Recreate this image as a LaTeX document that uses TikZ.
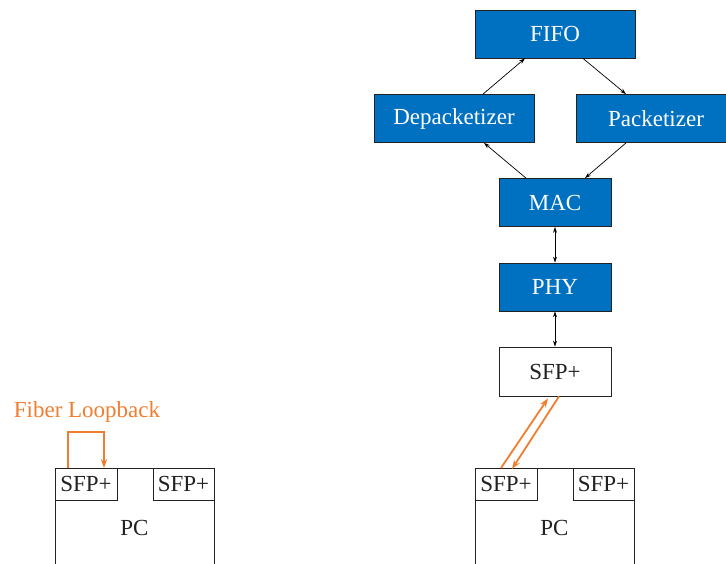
\documentclass[tikz,border=0pt]{standalone}
\usepackage{fontspec}
\setmainfont{Liberation Serif}
\usetikzlibrary{arrows.meta}
\definecolor{blockblue}{RGB}{0,112,192}
\definecolor{fiberorange}{RGB}{241,125,48}
\definecolor{inkgray}{RGB}{34,34,34}
\begin{document}
\begin{tikzpicture}[x=1pt,y=-1pt,
  font=\fontsize{23}{27}\selectfont,
  block/.style={draw=inkgray,line width=0.8pt,fill=blockblue,text=white,
    minimum width=160pt,minimum height=48pt,inner sep=0pt},
  smallblock/.style={block,minimum width=112pt},
  plainbox/.style={draw=inkgray,line width=0.8pt,fill=white,text=inkgray,inner sep=0pt},
  port/.style={plainbox,minimum width=62pt,minimum height=32pt},
  pcbox/.style={plainbox,minimum width=159pt,minimum height=120pt},
  link/.style={draw=black,line width=0.7pt,-{Stealth[length=6pt,width=4pt]}},
  duplex/.style={link,{Stealth[length=6pt,width=4pt]}-{Stealth[length=6pt,width=4pt]}},
  fiber/.style={draw=fiberorange,line width=1.8pt,-{Stealth[length=9pt,width=6.5pt]}}]
\useasboundingbox (0,0) rectangle (726,563);
\clip (0,0) rectangle (726,563);

% processing chain
\node[block] (fifo) at (555,34) {FIFO};
\node[block] (depack) at (454,118.5) {Depacketizer};
\node[block] (pack) at (656,118.5) {Packetizer};
\node[smallblock] (mac) at (555,202.5) {MAC};
\node[smallblock] (phy) at (555,287) {PHY};
\node[plainbox,minimum width=112pt,minimum height=49pt] (sfp) at (555,371.5) {SFP+};

\draw[link] ([xshift=29pt]depack.north) -- ([xshift=-30pt]fifo.south);
\draw[link] ([xshift=28pt]fifo.south) -- ([xshift=-30pt]pack.north);
\draw[link] ([xshift=-29pt]mac.north) -- ([xshift=30pt]depack.south);
\draw[link] ([xshift=-30pt]pack.south) -- ([xshift=30pt]mac.north);
\draw[duplex] (mac) -- (phy);
\draw[duplex] (phy) -- (sfp);

% right PC
\node[pcbox,anchor=north] (pcr) at (554.5,468) {PC};
\node[port,anchor=north west] (pcrA) at (pcr.north west) {SFP+};
\node[port,anchor=north east,minimum width=61pt] (pcrB) at (pcr.north east) {SFP+};

\draw[fiber] ([xshift=-5pt]pcrA.north) -- ([xshift=-7pt,yshift=-2pt]sfp.south);
\draw[fiber] ([xshift=4pt]sfp.south) -- ([xshift=6pt,yshift=-1pt]pcrA.north);

% left PC with loopback
\node[pcbox,anchor=north] (pcl) at (134.5,468) {PC};
\node[port,anchor=north west] (pclA) at (pcl.north west) {SFP+};
\node[port,anchor=north east,minimum width=61pt] (pclB) at (pcl.north east) {SFP+};

\draw[fiber] ([xshift=-18pt]pclA.north) -- ++(0,-36) -| ([xshift=18pt]pclA.north);
\node[text=fiberorange] (loop) at (87,412) {Fiber Loopback};
\end{tikzpicture}
\end{document}
